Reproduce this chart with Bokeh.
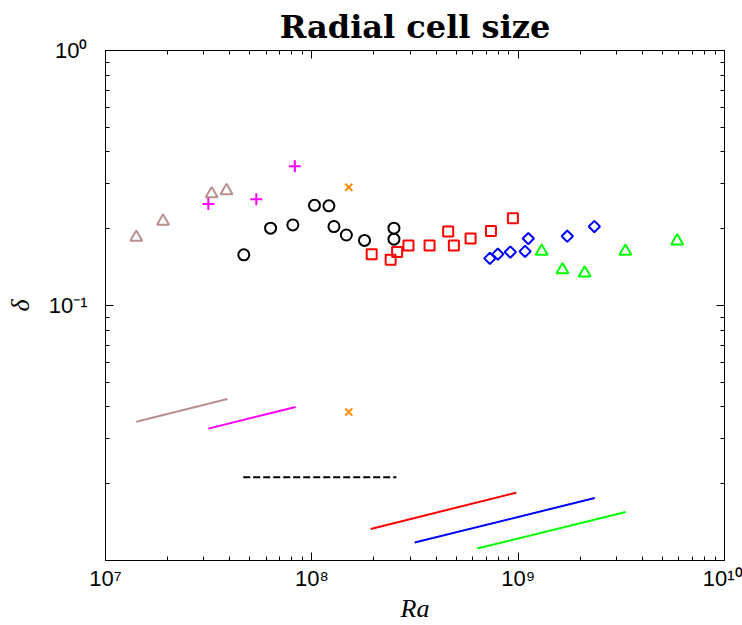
import math
from bokeh.plotting import figure
from bokeh.models import LogAxis, FixedTicker, CustomJSTickFormatter, Range1d
from bokeh.embed import file_html
from bokeh.resources import INLINE

# ---- data ----
brown_ra = [1.41e7, 1.90e7, 3.27e7, 3.86e7]
brown_d = [0.185, 0.214, 0.274, 0.282]

mag_ra = [3.15e7, 5.38e7, 8.27e7]
mag_d = [0.250, 0.261, 0.352]

orange_ra = [1.51e8, 1.51e8]
orange_d = [0.291, 0.0382]

black_ra = [4.68e7, 6.31e7, 8.09e7, 1.03e8, 1.21e8, 1.28e8, 1.47e8, 1.80e8, 2.50e8, 2.50e8]
black_d = [0.158, 0.201, 0.207, 0.247, 0.246, 0.204, 0.189, 0.180, 0.201, 0.182]

red_ra = [1.95e8, 2.41e8, 2.59e8, 2.94e8, 3.72e8, 4.58e8, 4.88e8, 5.88e8, 7.38e8, 9.43e8]
red_d = [0.159, 0.151, 0.162, 0.172, 0.172, 0.195, 0.172, 0.183, 0.196, 0.220]

blue_ra = [7.29e8, 7.97e8, 9.16e8, 1.08e9, 1.12e9, 1.73e9, 2.34e9]
blue_d = [0.153, 0.159, 0.162, 0.163, 0.183, 0.187, 0.204]

green_ra = [1.30e9, 1.64e9, 2.10e9, 3.31e9, 5.90e9]
green_d = [0.163, 0.138, 0.134, 0.163, 0.179]

# scaling lines (end points)
brown_line_ra = [1.41e7, 3.90e7]
brown_line_d = [0.0350, 0.0430]
mag_line_ra = [3.15e7, 8.34e7]
mag_line_d = [0.0329, 0.0400]
black_line_ra = [4.65e7, 2.57e8]
black_line_d = [0.0212, 0.0212]
red_line_ra = [1.93e8, 9.79e8]
red_line_d = [0.0133, 0.01845]
blue_line_ra = [3.15e8, 2.35e9]
blue_line_d = [0.01176, 0.01758]
green_line_ra = [6.34e8, 3.32e9]
green_line_d = [0.01114, 0.01549]

x_major = [1e7, 1e8, 1e9, 1e10]
y_major = [0.1, 1.0]
title_text = "Radial cell size"

# ---- figure ----
p = figure(width=742, height=625, x_axis_type="log", y_axis_type="log",
           x_range=Range1d(1e7, 1e10), y_range=Range1d(0.01, 1.0),
           output_backend="svg", toolbar_location=None,
           min_border_left=105, min_border_right=18, min_border_top=49, min_border_bottom=62)
p.background_fill_color = "white"
p.border_fill_color = "white"
p.outline_line_color = "black"
p.grid.visible = False

p.title.text = title_text
p.title.text_font = "DejaVu Serif"
p.title.text_font_style = "bold"
p.title.text_font_size = "32px"
p.title.align = "center"
p.title.text_color = "black"
p.title.standoff = 10

x_minor = [k * 10.0 ** e for e in range(7, 10) for k in range(2, 10)]
y_minor = [k * 10.0 ** e for e in range(-2, 0) for k in range(2, 10)]

fmt = CustomJSTickFormatter(code=r"""
const sup = {"0":"\u2070","1":"\u00b9","2":"\u00b2","3":"\u00b3","4":"\u2074","5":"\u2075","6":"\u2076","7":"\u2077","8":"\u2078","9":"\u2079","-":"\u207b"};
const e = Math.round(Math.log10(tick));
return "10" + String(e).split("").map(c => sup[c]).join("");
""")

def style(ax, ticks, minor, labels=True):
    ax.ticker = FixedTicker(ticks=ticks, minor_ticks=minor)
    ax.major_tick_in = 8
    ax.major_tick_out = 0
    ax.minor_tick_in = 4
    ax.minor_tick_out = 0
    ax.major_tick_line_color = "black"
    ax.minor_tick_line_color = "black"
    ax.axis_line_color = "black"
    ax.formatter = fmt
    if labels:
        ax.major_label_text_font = "Liberation Sans"
        ax.major_label_text_font_size = "22px"
        ax.major_label_text_color = "black"
    else:
        ax.major_label_text_font_size = "1px"
        ax.major_label_text_alpha = 0.0
        ax.major_label_standoff = 0

style(p.xaxis[0], x_major, x_minor)
style(p.yaxis[0], y_major, y_minor)
p.xaxis[0].major_label_standoff = 5
p.yaxis[0].major_label_standoff = 18

p.xaxis[0].axis_label = "Ra"
p.yaxis[0].axis_label = "\u03b4"
for ax in (p.xaxis[0], p.yaxis[0]):
    ax.axis_label_text_font = "Liberation Serif"
    ax.axis_label_text_font_style = "italic"
    ax.axis_label_text_font_size = "26px"
    ax.axis_label_text_color = "black"
p.xaxis[0].axis_label_standoff = 0
p.yaxis[0].axis_label_standoff = 11

top_ax = LogAxis()
style(top_ax, x_major, x_minor, labels=False)
p.add_layout(top_ax, "above")
right_ax = LogAxis()
style(right_ax, y_major, y_minor, labels=False)
p.add_layout(right_ax, "right")

# ---- scaling lines ----
p.line(brown_line_ra, brown_line_d, line_color="#BC8F8F", line_width=2)
p.line(mag_line_ra, mag_line_d, line_color="#FF00FF", line_width=2)
p.line(black_line_ra, black_line_d, line_color="black", line_width=2, line_dash="7 3")
p.line(red_line_ra, red_line_d, line_color="#FF0000", line_width=2)
p.line(blue_line_ra, blue_line_d, line_color="#0000FF", line_width=2)
p.line(green_line_ra, green_line_d, line_color="#00FF00", line_width=2)

# ---- markers ----
p.scatter(brown_ra, brown_d, marker="triangle", size=12, fill_color=None, line_color="#BC8F8F", line_width=2)
p.scatter(mag_ra, mag_d, marker="cross", size=12, line_color="#FF00FF", line_width=2)
p.scatter(orange_ra, orange_d, marker="x", size=10, line_color="#FF8C00", line_width=2)
p.scatter(black_ra, black_d, marker="circle", size=11, fill_color=None, line_color="black", line_width=2)
p.scatter(red_ra, red_d, marker="square", size=10, fill_color=None, line_color="#FF0000", line_width=2)
p.scatter(blue_ra, blue_d, marker="square", size=8, angle=math.pi / 4, fill_color=None, line_color="#0000FF", line_width=2)
p.scatter(green_ra, green_d, marker="triangle", size=12, fill_color=None, line_color="#00FF00", line_width=2)

open("out.html", "w", encoding="utf-8").write(file_html(p, INLINE))
